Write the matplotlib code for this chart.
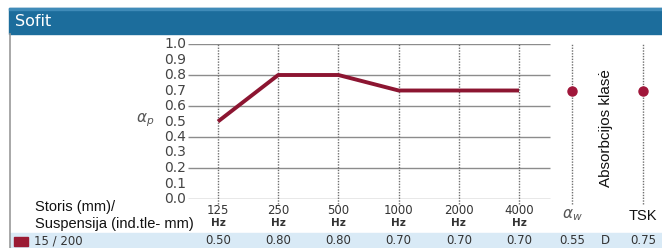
import numpy as np
import matplotlib
matplotlib.use("Agg")
import matplotlib.pyplot as plt
from matplotlib.patches import Rectangle

# data
freqs = ["125", "250", "500", "1000", "2000", "4000"]
alpha_p = [0.50, 0.80, 0.80, 0.70, 0.70, 0.70]
extra_dots = [0.70, 0.70]          # dots on the alpha_w and TSK columns
row_label = "15 / 200"
row_values = ["0.50", "0.80", "0.80", "0.70", "0.70", "0.70", "0.55"]
abs_class = "D"
tsk_value = "0.75"
yticks = [0.0, 0.1, 0.2, 0.3, 0.4, 0.5, 0.6, 0.7, 0.8, 0.9, 1.0]
grid_y = [0.0, 0.2, 0.4, 0.6, 0.8, 1.0]

W, H = 662, 248
fig = plt.figure(figsize=(W / 100, H / 100), dpi=100)
fig.patch.set_facecolor("white")

# pixel helpers for the decorations
px = fig.add_axes([0, 0, 1, 1])
px.set_xlim(0, W)
px.set_ylim(H, 0)
px.axis("off")

blue = "#1c6d9c"
px.add_patch(Rectangle((9, 8), W - 9, 26, color=blue, zorder=1))
px.add_patch(Rectangle((9, 8), W - 9, 2, color="#3f8bb8", zorder=2))
px.plot([10, 10], [34, H], color="#9a9a9a", lw=1.2)
px.text(15, 21, "Sofit", color="white", fontsize=11.5, va="center", ha="left",
        family="DejaVu Sans")

# bottom data row
px.add_patch(Rectangle((10, 233), W - 10, 15, color="#d9eaf6", zorder=1))
px.add_patch(Rectangle((14, 237), 14, 9, color="#9b1b34", zorder=2))

# main chart axes, x in category units (60.2 px each, 125 Hz at px 218)
step = 60.2
x0 = 218
ax = fig.add_axes([0, (H - 199) / H, 1, 155 / H])
ax.set_xlim(-x0 / step, (W - x0) / step)
ax.set_ylim(0, 1)
ax.axis("off")
ax.patch.set_alpha(0)

xs = np.arange(len(freqs))
x_aw = (572 - x0) / step
x_tsk = (643 - x0) / step

ax.hlines(grid_y, -0.5, 5.52, color="#8c8c8c", lw=1.0, zorder=1)
for x in list(xs) + [x_aw, x_tsk]:
    ax.plot([x, x], [-0.03, 1.0], color="#707070", lw=1.0,
            ls=(0, (1, 1)), zorder=1, clip_on=False)

ax.plot(xs, alpha_p, color="#8c1531", lw=2.8, zorder=3, solid_capstyle="butt")
ax.plot([x_aw, x_tsk], extra_dots, "o", color="#a0163a", ms=6.5, zorder=3)

for v in yticks:
    ax.text((186 - x0) / step, v, f"{v:.1f}", ha="right", va="center",
            fontsize=10, color="#444444", family="DejaVu Sans")

px.text(145, 120, r"$\alpha_p$", fontsize=11, color="#555555",
        ha="center", va="center")

# labels under the chart
for x, f in zip(xs, freqs):
    xp = x0 + x * step
    px.text(xp, 211, f, ha="center", va="center", fontsize=8.5,
            color="#333333", family="DejaVu Sans")
    px.text(xp, 223, "Hz", ha="center", va="center", fontsize=7.5,
            color="#333333", family="DejaVu Sans", weight="bold")
px.text(572, 215, r"$\alpha_w$", ha="center", va="center", fontsize=11,
        color="#555555")
px.text(643, 216, "TSK", ha="center", va="center", fontsize=10.5,
        color="#111111", family="Liberation Sans")
px.text(606, 128, "Absorbcijos klasė", ha="center", va="center", rotation=90,
        fontsize=11, color="#111111", family="Liberation Sans")

px.text(35, 207, "Storis (mm)/", ha="left", va="center", fontsize=10.5,
        color="#111111", family="Liberation Sans")
px.text(35, 224, "Suspensija (ind.tle- mm)", ha="left", va="center",
        fontsize=10.5, color="#111111", family="Liberation Sans")

# row values
px.text(34, 241, row_label, ha="left", va="center", fontsize=8.5,
        color="#333333", family="DejaVu Sans")
row_x = [x0 + i * step for i in range(len(freqs))] + [572]
for xp, v in zip(row_x, row_values):
    px.text(xp, 241, v, ha="center", va="center", fontsize=8.5,
            color="#333333", family="DejaVu Sans")
px.text(605, 241, abs_class, ha="center", va="center", fontsize=8.5,
        color="#333333", family="DejaVu Sans")
px.text(643, 241, tsk_value, ha="center", va="center", fontsize=8.5,
        color="#333333", family="DejaVu Sans")

fig.savefig("out.png", dpi=100)
